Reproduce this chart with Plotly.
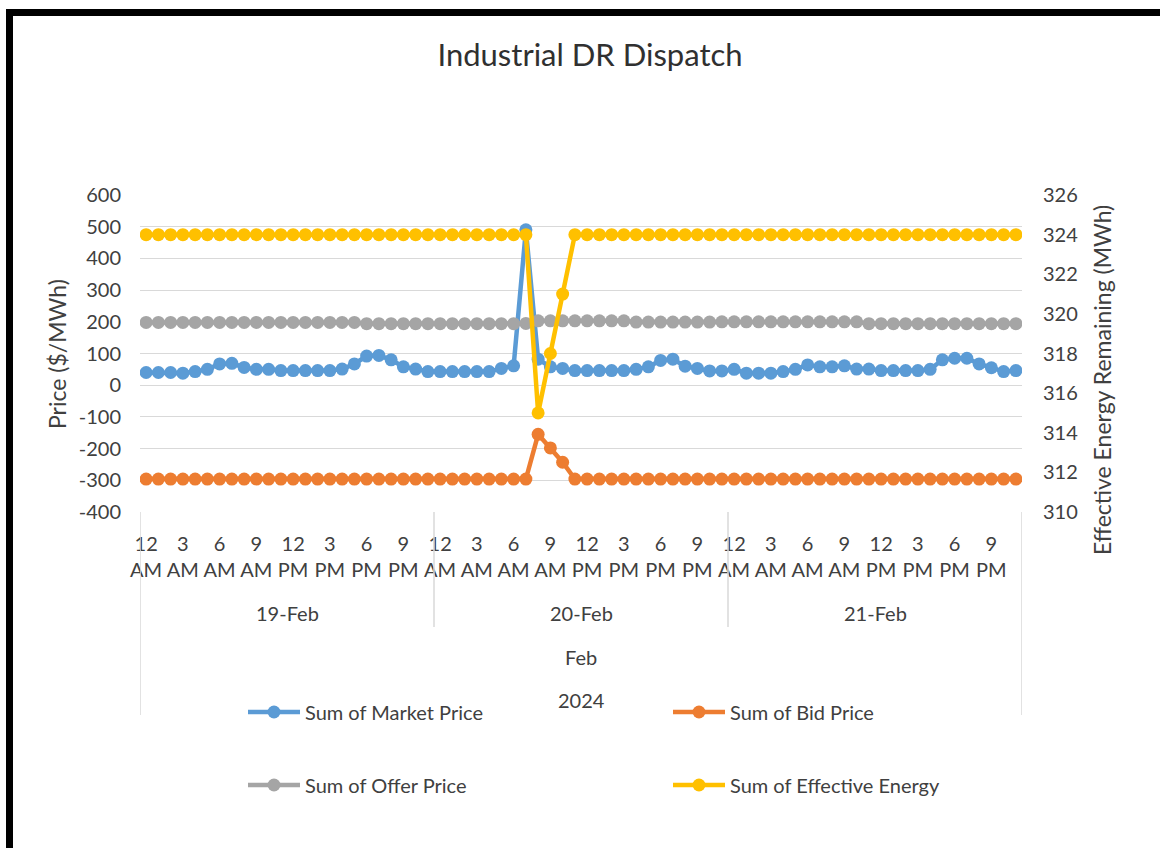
import plotly.graph_objects as go

# ---- data -------------------------------------------------------------
days = ["19-Feb", "20-Feb", "21-Feb"]
hours = ["12 AM", "1 AM", "2 AM", "3 AM", "4 AM", "5 AM", "6 AM", "7 AM",
         "8 AM", "9 AM", "10 AM", "11 AM", "12 PM", "1 PM", "2 PM", "3 PM",
         "4 PM", "5 PM", "6 PM", "7 PM", "8 PM", "9 PM", "10 PM", "11 PM"]
month_label = "Feb"
year_label = "2024"
price_ticks = [-400, -300, -200, -100, 0, 100, 200, 300, 400, 500, 600]

market_price = [
    40, 40, 40, 38, 43, 50, 67, 69, 56, 50, 50, 46, 46, 46, 46, 46, 51, 67, 92, 94, 80, 58, 51, 43,
    43, 43, 43, 43, 43, 53, 61, 490, 82, 58, 53, 46, 46, 46, 46, 46, 50, 58, 78, 82, 60, 53, 45, 45,
    50, 38, 38, 38, 43, 50, 64, 58, 58, 61, 51, 51, 46, 46, 46, 46, 50, 80, 85, 85, 67, 55, 43, 46,
]
bid_price = [
    -296, -296, -296, -296, -296, -296, -296, -296, -296, -296, -296, -296,
    -296, -296, -296, -296, -296, -296, -296, -296, -296, -296, -296, -296,
    -296, -296, -296, -296, -296, -296, -296, -296, -155, -198, -243, -296,
    -296, -296, -296, -296, -296, -296, -296, -296, -296, -296, -296, -296,
    -296, -296, -296, -296, -296, -296, -296, -296, -296, -296, -296, -296,
    -296, -296, -296, -296, -296, -296, -296, -296, -296, -296, -296, -296,
]
offer_price = [
    198, 198, 198, 198, 198, 198, 198, 198, 198, 198, 198, 198,
    198, 198, 198, 198, 198, 198, 194, 194, 194, 194, 194, 194,
    194, 194, 194, 194, 194, 194, 194, 195, 203, 203, 203, 203,
    203, 203, 203, 203, 199, 199, 199, 199, 199, 199, 199, 200,
    200, 200, 200, 200, 200, 200, 200, 200, 200, 200, 200, 194,
    194, 194, 194, 194, 194, 194, 194, 194, 194, 194, 194, 194,
]
effective_energy = [
    324, 324, 324, 324, 324, 324, 324, 324, 324, 324, 324, 324,
    324, 324, 324, 324, 324, 324, 324, 324, 324, 324, 324, 324,
    324, 324, 324, 324, 324, 324, 324, 324, 315, 318, 321, 324,
    324, 324, 324, 324, 324, 324, 324, 324, 324, 324, 324, 324,
    324, 324, 324, 324, 324, 324, 324, 324, 324, 324, 324, 324,
    324, 324, 324, 324, 324, 324, 324, 324, 324, 324, 324, 324,
]

# ---- layout geometry (pixels) -----------------------------------------
W, H = 1160, 848
PL, PR, PT, PB = 140, 1022, 195, 512   # plot area edges


def xp(px):
    return (px - PL) / (PR - PL)


def yp(py):
    return (PB - py) / (PB - PT)


FONT = "Lato"
TXT = "#404040"
GRID = "#d9d9d9"

x = [f"{d} {h}" for d in days for h in hours]
tick_vals = [f"{d} {h}" for d in days for h in hours[::3]]
tick_text = [h.replace(" ", "<br>") for d in days for h in hours[::3]]

# (name, values, colour, axis, legend id, legend item left/centre in px)
series = [
    ("Sum of Market Price", market_price, "#5B9BD5", "y", "legend", 243, 712),
    ("Sum of Bid Price", bid_price, "#ED7D31", "y", "legend2", 668, 712),
    ("Sum of Offer Price", offer_price, "#A5A5A5", "y", "legend3", 243, 785),
    ("Sum of Effective Energy", effective_energy, "#FFC000", "y2", "legend4", 668, 785),
]

fig = go.Figure()
legend_layouts = {}
for name, vals, color, yax, leg, lx, ly in series:
    fig.add_trace(go.Scatter(
        x=x, y=vals, name=name, yaxis=yax, legend=leg, showlegend=True,
        mode="lines+markers",
        line=dict(color=color, width=4.5),
        marker=dict(color=color, size=13, symbol="circle"),
    ))
    legend_layouts[leg] = dict(
        orientation="h", x=xp(lx), y=yp(ly), xanchor="left", yanchor="middle",
        itemwidth=52, font=dict(family=FONT, size=20, color=TXT),
        bgcolor="rgba(0,0,0,0)")

annotations = []
n_per_day = len(hours)
for k, d in enumerate(days):
    annotations.append(dict(
        x=k * n_per_day + (n_per_day - 1) / 2, xref="x",
        y=yp(613), yref="paper", text=d, showarrow=False,
        font=dict(family=FONT, size=20, color=TXT),
        xanchor="center", yanchor="middle"))
mid = (len(x) - 1) / 2
annotations.append(dict(x=mid, xref="x", y=yp(657), yref="paper", text=month_label,
                        showarrow=False, font=dict(family=FONT, size=20, color=TXT),
                        xanchor="center", yanchor="middle"))
annotations.append(dict(x=mid, xref="x", y=yp(700), yref="paper", text=year_label,
                        showarrow=False, font=dict(family=FONT, size=20, color=TXT),
                        xanchor="center", yanchor="middle"))
annotations.append(dict(x=xp(57), xref="paper", y=yp(354), yref="paper",
                        text="Price ($/MWh)", textangle=-90, showarrow=False,
                        font=dict(family=FONT, size=23, color=TXT),
                        xanchor="center", yanchor="middle"))
annotations.append(dict(x=xp(1102), xref="paper", y=yp(380), yref="paper",
                        text="Effective Energy Remaining (MWh)", textangle=-90,
                        showarrow=False, font=dict(family=FONT, size=23, color=TXT),
                        xanchor="center", yanchor="middle"))

shapes = []
# day separators on the category axis
for k in range(len(days) + 1):
    outer = k in (0, len(days))
    shapes.append(dict(type="line", xref="x", yref="paper",
                       x0=k * n_per_day - 0.5, x1=k * n_per_day - 0.5,
                       y0=0, y1=yp(715 if outer else 627),
                       line=dict(color=GRID, width=1.5)))
# black frame around the chart
shapes.append(dict(type="rect", xref="paper", yref="paper",
                   x0=xp(6), x1=xp(1175), y0=yp(9), y1=yp(16),
                   fillcolor="black", line=dict(width=0)))
shapes.append(dict(type="rect", xref="paper", yref="paper",
                   x0=xp(6), x1=xp(13), y0=yp(9), y1=yp(870),
                   fillcolor="black", line=dict(width=0)))

fig.update_layout(
    width=W, height=H, showlegend=True,
    margin=dict(l=PL, r=W - PR, t=PT, b=H - PB, autoexpand=False),
    paper_bgcolor="white", plot_bgcolor="white",
    title=dict(text="Industrial DR Dispatch", x=590 / W, xanchor="center",
               y=1 - 55 / H, yanchor="middle", yref="container",
               font=dict(family=FONT, size=31, color="#303030")),
    xaxis=dict(type="category", range=[-0.5, len(x) - 0.5],
               tickmode="array", tickvals=tick_vals, ticktext=tick_text,
               tickangle=0, showgrid=False, zeroline=False, showline=False,
               ticks="", ticklabelstandoff=18,
               tickfont=dict(family=FONT, size=20, color=TXT)),
    yaxis=dict(range=[-400, 600], tickmode="array", tickvals=price_ticks,
               ticktext=[str(v) for v in price_ticks], showgrid=True,
               gridcolor=GRID, gridwidth=1.3, zeroline=False, showline=False,
               ticks="", ticklabelstandoff=18,
               tickfont=dict(family=FONT, size=20, color=TXT)),
    yaxis2=dict(range=[310, 326], dtick=2, tick0=310, overlaying="y",
                side="right", showgrid=False, zeroline=False, showline=False,
                ticks="", ticklabelstandoff=20,
                tickfont=dict(family=FONT, size=20, color=TXT)),
    annotations=annotations,
    shapes=shapes,
    **legend_layouts,
)

fig.write_html("out.html")
